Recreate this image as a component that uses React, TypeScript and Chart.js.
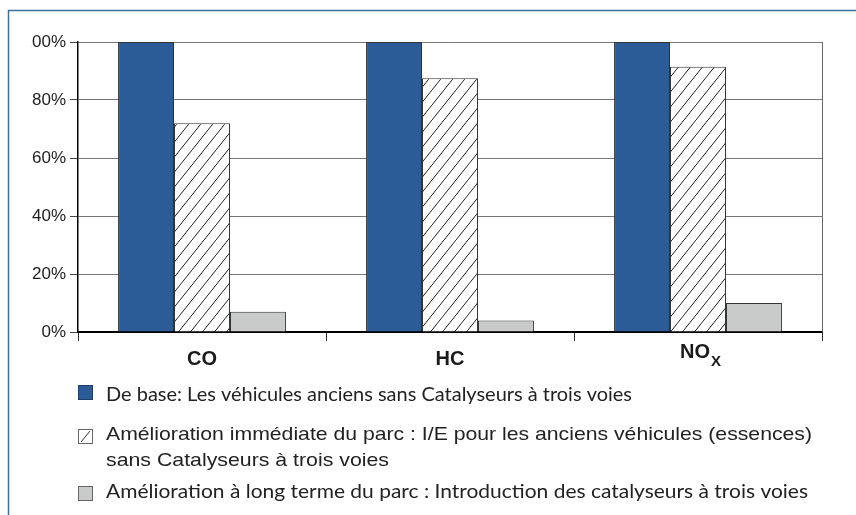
import React, { useEffect, useRef } from "react";
import { Chart, registerables } from "chart.js";

Chart.register(...registerables);

const categories = ["CO", "HC", "NO_X"];
const baseValues = [100, 100, 100];
const immediateValues = [72, 87.5, 91.5];
const longTermValues = [7, 4, 10];
const yTicks = [0, 20, 40, 60, 80, 100];
const legendLines = [
  ["De base: Les véhicules anciens sans Catalyseurs à trois voies"],
  [
    "Amélioration immédiate du parc : I/E pour les anciens véhicules (essences)",
    "sans Catalyseurs à trois voies",
  ],
  ["Amélioration à long terme du parc : Introduction des catalyseurs à trois voies"],
];

const BLUE = "#2b5c97";
const GRAY = "#c9caca";
const FRAME = "#3f7099";
const HUMANIST = "19px Lato, 'Noto Sans', sans-serif";
const GROTESK = "18.5px 'Liberation Sans', Arial, sans-serif";

function makeHatch(): CanvasPattern | string {
  const c = document.createElement("canvas");
  const w = 12;
  const h = 15;
  c.width = w;
  c.height = h;
  const ctx = c.getContext("2d");
  if (!ctx) return "#fff";
  ctx.fillStyle = "#fff";
  ctx.fillRect(0, 0, w, h);
  ctx.strokeStyle = "#222";
  ctx.lineWidth = 1;
  ctx.beginPath();
  ctx.moveTo(-w * 0.1, h * 1.1);
  ctx.lineTo(w * 1.1, -h * 0.1);
  ctx.stroke();
  return ctx.createPattern(c, "repeat") || "#fff";
}

export default function App() {
  const ref = useRef<HTMLCanvasElement | null>(null);

  useEffect(() => {
    const canvas = ref.current;
    if (!canvas) return;
    const hatch = makeHatch();

    const decor = {
      id: "decor",
      afterDraw(chart: any) {
        const ctx = chart.ctx as CanvasRenderingContext2D;
        const area = chart.chartArea;
        const xs = chart.scales.x;
        ctx.save();
        // hide clipped part of "100%" as in reference
        ctx.fillStyle = "#fff";
        ctx.fillRect(10, 28, 21, 28);
        // right border of plot
        ctx.strokeStyle = "#666";
        ctx.lineWidth = 1;
        ctx.beginPath();
        ctx.moveTo(area.right + 0.5, area.top);
        ctx.lineTo(area.right + 0.5, area.bottom);
        ctx.stroke();
        // frame
        ctx.strokeStyle = FRAME;
        ctx.lineWidth = 1.5;
        ctx.beginPath();
        ctx.moveTo(8.5, 515);
        ctx.lineTo(8.5, 10.5);
        ctx.lineTo(856, 10.5);
        ctx.stroke();

        // category labels
        ctx.fillStyle = "#1a1a1a";
        ctx.textBaseline = "alphabetic";
        categories.forEach((cat, i) => {
          const cx = xs.getPixelForValue(i);
          const parts = cat.split("_");
          if (parts.length === 1) {
            ctx.font = "bold 20px 'Liberation Sans', Arial, sans-serif";
            ctx.textAlign = "center";
            ctx.fillText(cat, cx, 365);
          } else {
            ctx.font = "bold 20px 'Liberation Sans', Arial, sans-serif";
            const w1 = ctx.measureText(parts[0]).width;
            ctx.font = "bold 15px 'Liberation Sans', Arial, sans-serif";
            const w2 = ctx.measureText(parts[1]).width;
            const x0 = cx - (w1 + w2) / 2 + 2;
            ctx.textAlign = "left";
            ctx.font = "bold 20px 'Liberation Sans', Arial, sans-serif";
            ctx.fillText(parts[0], x0, 358);
            ctx.font = "bold 15px 'Liberation Sans', Arial, sans-serif";
            ctx.fillText(parts[1], x0 + w1 + 1, 366);
          }
        });

        // legend
        const fills: (string | CanvasPattern)[] = [BLUE, "#fff", GRAY];
        const iconY = [385, 429, 486];
        const textY = [401, 440, 466, 498];
        const textRight = [632, 812, 389, 808];
        const fonts = [HUMANIST, GROTESK, GROTESK, HUMANIST];
        let line = 0;
        legendLines.forEach((lines, i) => {
          const y = iconY[i];
          ctx.fillStyle = fills[i] as any;
          ctx.fillRect(78, y, 15, 15);
          ctx.strokeStyle = i === 0 ? "#1d3f6a" : "#666";
          ctx.lineWidth = 1;
          ctx.strokeRect(78.5, y + 0.5, 14, 14);
          if (i === 1) {
            ctx.strokeStyle = "#333";
            ctx.beginPath();
            ctx.moveTo(81, y + 13);
            ctx.lineTo(90, y + 2);
            ctx.stroke();
          }
          ctx.fillStyle = "#222";
          ctx.textAlign = "left";
          lines.forEach((t) => {
            ctx.font = fonts[line];
            const w = ctx.measureText(t).width;
            const sx = (textRight[line] - 106) / w;
            ctx.save();
            ctx.translate(106, textY[line]);
            ctx.scale(sx, 1);
            ctx.fillText(t, 0, 0);
            ctx.restore();
            line++;
          });
        });
        ctx.restore();
      },
    };

    const chart = new Chart(canvas, {
      type: "bar",
      data: {
        labels: categories,
        datasets: [
          {
            label: legendLines[0].join(" "),
            data: baseValues,
            backgroundColor: BLUE,
            borderColor: "#333",
            borderWidth: 1,
          },
          {
            label: legendLines[1].join(" "),
            data: immediateValues,
            backgroundColor: hatch as any,
            borderColor: "#333",
            borderWidth: 1,
          },
          {
            label: legendLines[2].join(" "),
            data: longTermValues,
            backgroundColor: GRAY,
            borderColor: "#333",
            borderWidth: 1,
          },
        ],
      },
      options: {
        animation: false,
        responsive: false,
        maintainAspectRatio: false,
        layout: { padding: { left: 0, top: 42, right: 34, bottom: 143 } },
        datasets: { bar: { categoryPercentage: 0.677, barPercentage: 1 } },
        plugins: {
          legend: { display: false },
          tooltip: { enabled: false },
          title: { display: false },
        },
        scales: {
          x: {
            grid: {
              drawOnChartArea: false,
              drawTicks: true,
              tickLength: 9,
              color: "#333",
              offset: true,
            },
            border: { color: "#000", width: 2 },
            ticks: { display: false },
            afterFit: (s: any) => {
              s.height = 40;
            },
          },
          y: {
            min: 0,
            max: 100,
            afterBuildTicks: (s: any) => {
              s.ticks = yTicks.map((v) => ({ value: v }));
            },
            grid: { color: "#777", lineWidth: 1, tickLength: 8, tickColor: "#444" },
            border: { color: "#000", width: 1.5 },
            ticks: {
              padding: 4,
              color: "#222",
              font: { family: "'Liberation Sans', Arial, sans-serif", size: 17 },
              callback: (v: any) => `${v}%`,
            },
            afterFit: (s: any) => {
              s.width = 78;
            },
          },
        },
      },
      plugins: [decor],
    });

    return () => chart.destroy();
  }, []);

  return (
    <div style={{ position: "fixed", left: 0, top: 0, width: 856, height: 515, background: "#fff" }}>
      <canvas ref={ref} width={856} height={515} style={{ display: "block" }} />
    </div>
  );
}
